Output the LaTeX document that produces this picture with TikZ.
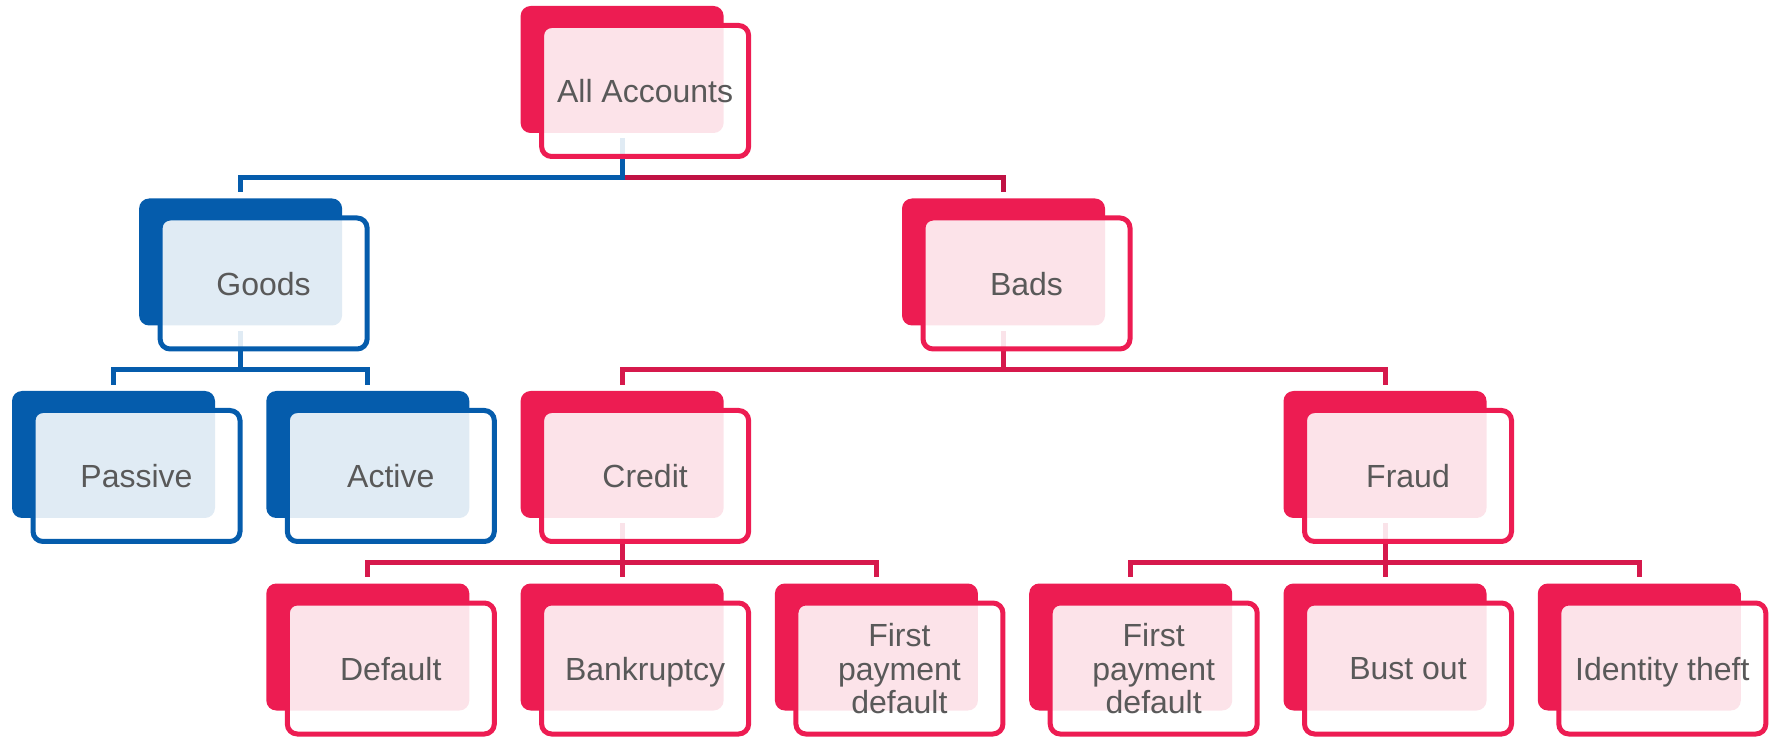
\documentclass[tikz,border=0pt]{standalone}
\usepackage{fontspec}
\setmainfont{Liberation Sans}
\usepackage{xcolor}
\definecolor{cardred}{RGB}{237, 28, 82}
\definecolor{cardblue}{RGB}{5, 92, 172}
\definecolor{linered}{RGB}{214, 25, 76}
\definecolor{linedark}{RGB}{192, 18, 68}
\definecolor{textgrey}{RGB}{89, 89, 89}

\begin{document}
\begin{tikzpicture}[x=0.5pt, y=-0.5pt, every node/.style={align=center},
    backred/.style={fill=cardred, rounded corners=5pt, minimum width=101.5pt, minimum height=63.5pt, inner sep=0pt},
    backblue/.style={backred, fill=cardblue},
    frontred/.style={draw=cardred, line width=2.5pt, fill=white, fill opacity=0.88, text opacity=1, rounded corners=5pt,
      minimum width=103.5pt, minimum height=65.5pt, inner sep=0pt, xshift=11.5pt, yshift=-10.75pt,
      text=textgrey, text depth=0pt, font=\fontsize{16}{16.75}\selectfont},
    frontblue/.style={frontred, draw=cardblue},
    redline/.style={draw=linered, line width=2.5pt},
    darkline/.style={draw=linedark, line width=2.5pt},
    blueline/.style={draw=cardblue, line width=2.5pt}]
        \useasboundingbox (0,0) rectangle (1773,737);
        % back cards
        \node[backred] (accb) at (622.1, 69.5) {};
        \node[backblue] (goodsb) at (240.6, 262) {};
        \node[backred] (badsb) at (1003.5, 262) {};
        \node[backblue] (passiveb) at (113.5, 454.5) {};
        \node[backblue] (activeb) at (367.8, 454.5) {};
        \node[backred] (creditb) at (622.1, 454.5) {};
        \node[backred] (fraudb) at (1385, 454.5) {};
        \node[backred] (defaultb) at (367.8, 647) {};
        \node[backred] (bankb) at (622.1, 647) {};
        \node[backred] (fpdcb) at (876.4, 647) {};
        \node[backred] (fpdfb) at (1130.7, 647) {};
        \node[backred] (bustb) at (1385, 647) {};
        \node[backred] (idb) at (1639.3, 647) {};
        % connectors
        \draw[darkline] ([yshift=-2.5pt]accb.south) ++(0,39) -| ([yshift=3pt]badsb.north);
        \draw[blueline] ([yshift=-2.5pt]accb.south) -- ++(0,39) -| ([yshift=3pt]goodsb.north);
        \draw[blueline] ([yshift=-2.5pt]goodsb.south) -- ++(0,39) -| ([yshift=3pt]passiveb.north);
        \draw[blueline] ([yshift=-2.5pt]goodsb.south) ++(0,39) -| ([yshift=3pt]activeb.north);
        \draw[redline] ([yshift=-2.5pt]badsb.south) -- ++(0,39) -| ([yshift=3pt]creditb.north);
        \draw[redline] ([yshift=-2.5pt]badsb.south) ++(0,39) -| ([yshift=3pt]fraudb.north);
        \draw[redline] ([yshift=-2.5pt]creditb.south) -- ([yshift=3pt]bankb.north);
        \draw[redline] ([yshift=-2.5pt]creditb.south) ++(0,39) -| ([yshift=3pt]defaultb.north);
        \draw[redline] ([yshift=-2.5pt]creditb.south) ++(0,39) -| ([yshift=3pt]fpdcb.north);
        \draw[redline] ([yshift=-2.5pt]fraudb.south) -- ([yshift=3pt]bustb.north);
        \draw[redline] ([yshift=-2.5pt]fraudb.south) ++(0,39) -| ([yshift=3pt]fpdfb.north);
        \draw[redline] ([yshift=-2.5pt]fraudb.south) ++(0,39) -| ([yshift=3pt]idb.north);
        % front cards
        \node[frontred] (acc) at (accb) {All Accounts};
        \node[frontblue] (goods) at (goodsb) {Goods};
        \node[frontred] (bads) at (badsb) {Bads};
        \node[frontblue] (passive) at (passiveb) {Passive};
        \node[frontblue] (active) at (activeb) {Active};
        \node[frontred] (credit) at (creditb) {Credit};
        \node[frontred] (fraud) at (fraudb) {Fraud};
        \node[frontred] (default) at (defaultb) {Default};
        \node[frontred] (bank) at (bankb) {Bankruptcy};
        \node[frontred] (fpdc) at (fpdcb) {First\\payment\\default};
        \node[frontred] (fpdf) at (fpdfb) {First\\payment\\default};
        \node[frontred] (bust) at (bustb) {Bust out};
        \node[frontred] (id) at (idb) {Identity theft};
      \end{tikzpicture}
\end{document}
